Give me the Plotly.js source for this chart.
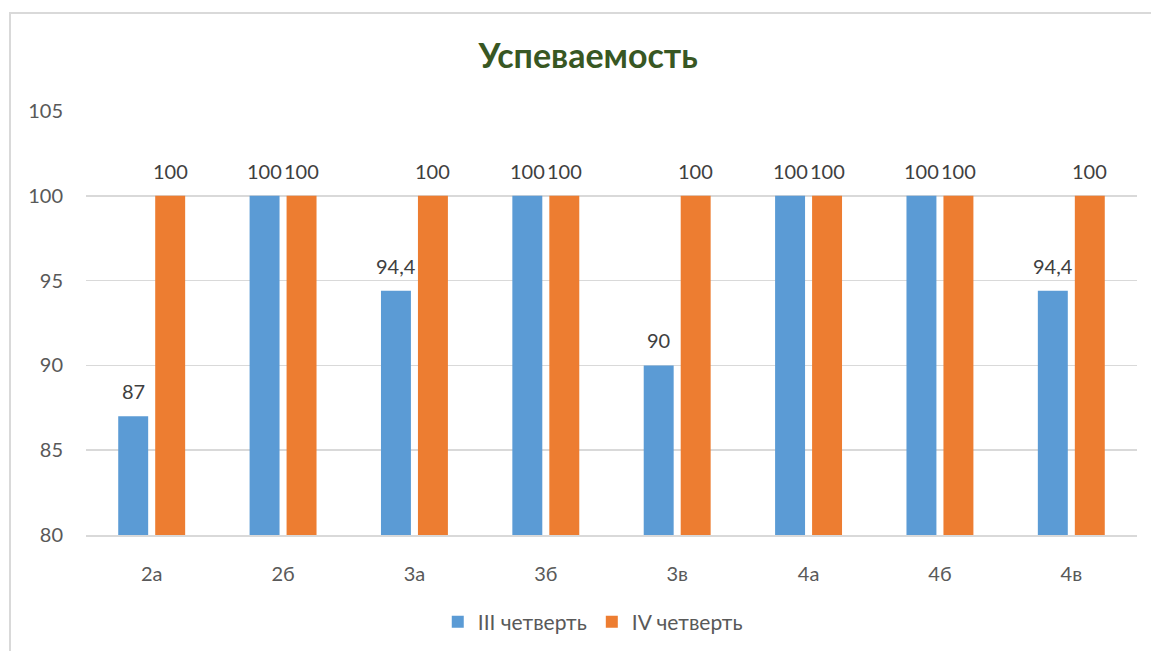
<!DOCTYPE html>
<html>
<head>
<meta charset="utf-8">
<script src="https://cdn.plot.ly/plotly-3.0.1.min.js"></script>
<style>
  html, body { margin: 0; padding: 0; background: #fff; }
  #frame { position: absolute; left: 9px; top: 12px; width: 1200px; height: 700px; border: 2px solid #d9d9d9; box-sizing: border-box; }
  #chart { position: absolute; left: 0; top: 0; width: 1151px; height: 651px; }
</style>
</head>
<body>
<div id="frame"></div>
<div id="chart"></div>
<script>
var categories = ['2а', '2б', '3а', '3б', '3в', '4а', '4б', '4в'];
var seriesNames = ['III четверть', 'IV четверть'];
var q3 = [87, 100, 94.4, 100, 90, 100, 100, 94.4];
var q4 = [100, 100, 100, 100, 100, 100, 100, 100];
var yTicks = [80, 85, 90, 95, 100, 105];

function fmt(v) { return String(v).replace('.', ','); }

var font = 'Lato, "Open Sans", "DejaVu Sans", sans-serif';

var traces = [
  { type: 'bar', name: seriesNames[0], x: categories, y: q3,
    marker: { color: '#5B9BD5' }, hoverinfo: 'x+y' },
  { type: 'bar', name: seriesNames[1], x: categories, y: q4,
    marker: { color: '#ED7D31' }, hoverinfo: 'x+y' }
];

var annotations = [];
[q3, q4].forEach(function (series, s) {
  series.forEach(function (v, i) {
    annotations.push({
      x: categories[i], y: v, xref: 'x', yref: 'y',
      text: fmt(v), showarrow: false,
      xshift: s === 0 ? -18.5 : 18.5, yshift: 25, yanchor: 'middle',
      font: { family: font, size: 20, color: '#404040' }
    });
  });
});

var layout = {
  width: 1151, height: 651,
  paper_bgcolor: 'rgba(0,0,0,0)', plot_bgcolor: 'rgba(0,0,0,0)',
  margin: { l: 86, r: 14, t: 111, b: 116 },
  font: { family: font, size: 20, color: '#595959' },
  title: { text: '<b>Успеваемость</b>', x: 0.511, xref: 'container', y: 1 - 56 / 651, yref: 'container', yanchor: 'middle',
           font: { family: font, size: 34, color: '#385723' } },
  barmode: 'group', bargap: 0.437, bargroupgap: 0.19,
  xaxis: { type: 'category', showgrid: false, showline: true, linecolor: '#d9d9d9', linewidth: 1.5,
           ticks: '', ticklabelstandoff: 20, tickfont: { size: 20, color: '#595959' } },
  yaxis: { range: [80, 105], tickvals: yTicks, ticktext: yTicks.map(String), showgrid: true, gridcolor: '#d9d9d9', gridwidth: 1.5,
           zeroline: false, showline: false, ticks: '', ticklabelstandoff: 22, tickfont: { size: 20, color: '#595959' } },
  annotations: annotations,
  showlegend: true,
  legend: { orientation: 'h', x: 0.515, xanchor: 'center', xref: 'container', y: 1 - 622 / 651, yref: 'container', yanchor: 'middle',
            font: { size: 21, color: '#595959' }, tracegroupgap: 0 }
};

Plotly.newPlot('chart', traces, layout, { displayModeBar: false, staticPlot: true });
</script>
</body>
</html>
